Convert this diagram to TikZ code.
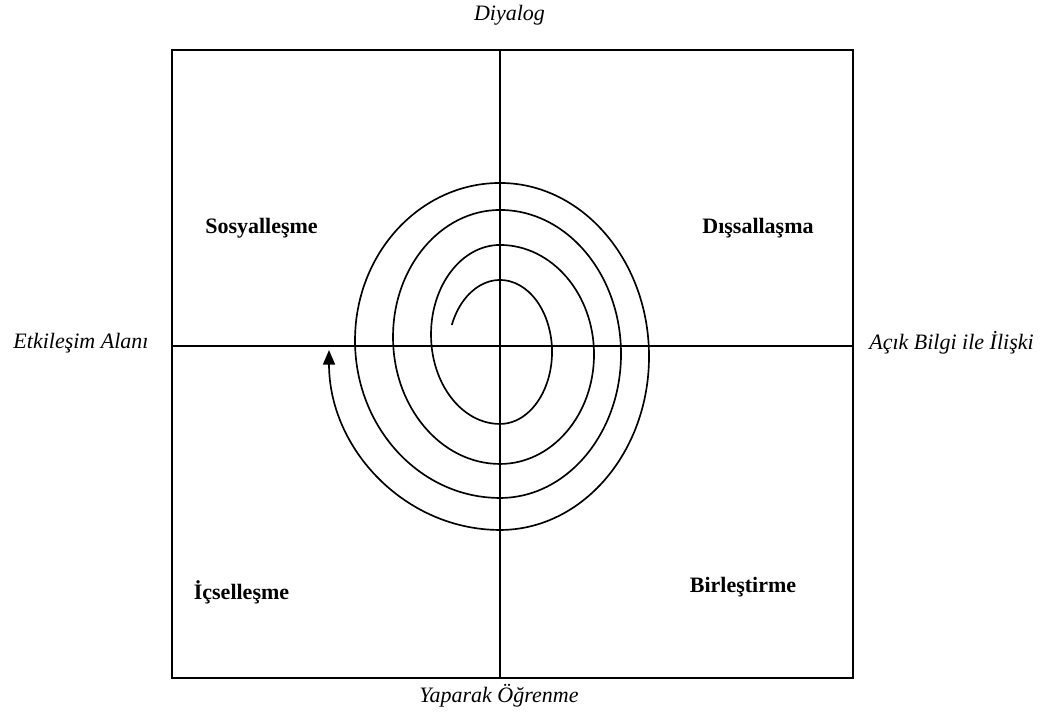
\documentclass[tikz,border=0pt]{standalone}
\usepackage{fontspec}
\setmainfont{Liberation Serif}
\usetikzlibrary{arrows.meta}
\begin{document}
\begin{tikzpicture}[x=0.75pt,y=0.75pt,
  frame/.style={line width=1.7pt,black},
  spiral/.style={line width=1.25pt,black},
  axislabel/.style={font=\fontsize{16.5}{18}\selectfont\itshape,anchor=base,inner sep=0pt},
  quadlabel/.style={font=\fontsize{16.5}{18}\selectfont\bfseries,anchor=base,inner sep=0pt}]
\useasboundingbox (0,0) rectangle (1049,716);
% frame and axes
\coordinate (tl) at (172,666);
\coordinate (br) at (853,38);
\coordinate (top) at (500,666);
\coordinate (bot) at (500,38);
\coordinate (lft) at (172,370);
\coordinate (rgt) at (853,370);
\draw[frame] (tl) rectangle (br);
\draw[frame] (top) -- (bot);
\draw[frame] (lft) -- (rgt);
% spiral
\draw[spiral,-{Triangle[length=11pt,width=9pt]}]
  (451.8,391)
  arc[start angle=158,end angle=-90,x radius=52,y radius=72]
  arc[start angle=-90,end angle=-270,x radius=69,y radius=89.5]
  arc[start angle=90,end angle=-90,x radius=94,y radius=109.5]
  arc[start angle=-90,end angle=-270,x radius=107,y radius=127]
  arc[start angle=90,end angle=-90,x radius=121,y radius=144]
  arc[start angle=-90,end angle=-270,x radius=145,y radius=157.5]
  arc[start angle=90,end angle=-90,x radius=149,y radius=173.5]
  arc[start angle=-90,end angle=-180,x radius=171,y radius=180];
% axis labels
\node[axislabel] (diyalog) at (509.5,695) {Diyalog};
\node[axislabel] (yaparak) at (499,13) {Yaparak Öğrenme};
\node[axislabel] (etkilesim) at (81,367) {Etkileşim Alanı};
\node[axislabel] (acik) at (951.5,366) {Açık Bilgi ile İlişki};
% quadrant labels
\node[quadlabel] (sosyal) at (261.5,482) {Sosyalleşme};
\node[quadlabel] (dissal) at (758,482) {Dışsallaşma};
\node[quadlabel] (icsel) at (241.5,116) {İçselleşme};
\node[quadlabel] (birles) at (743,123) {Birleştirme};
\end{tikzpicture}
\end{document}
